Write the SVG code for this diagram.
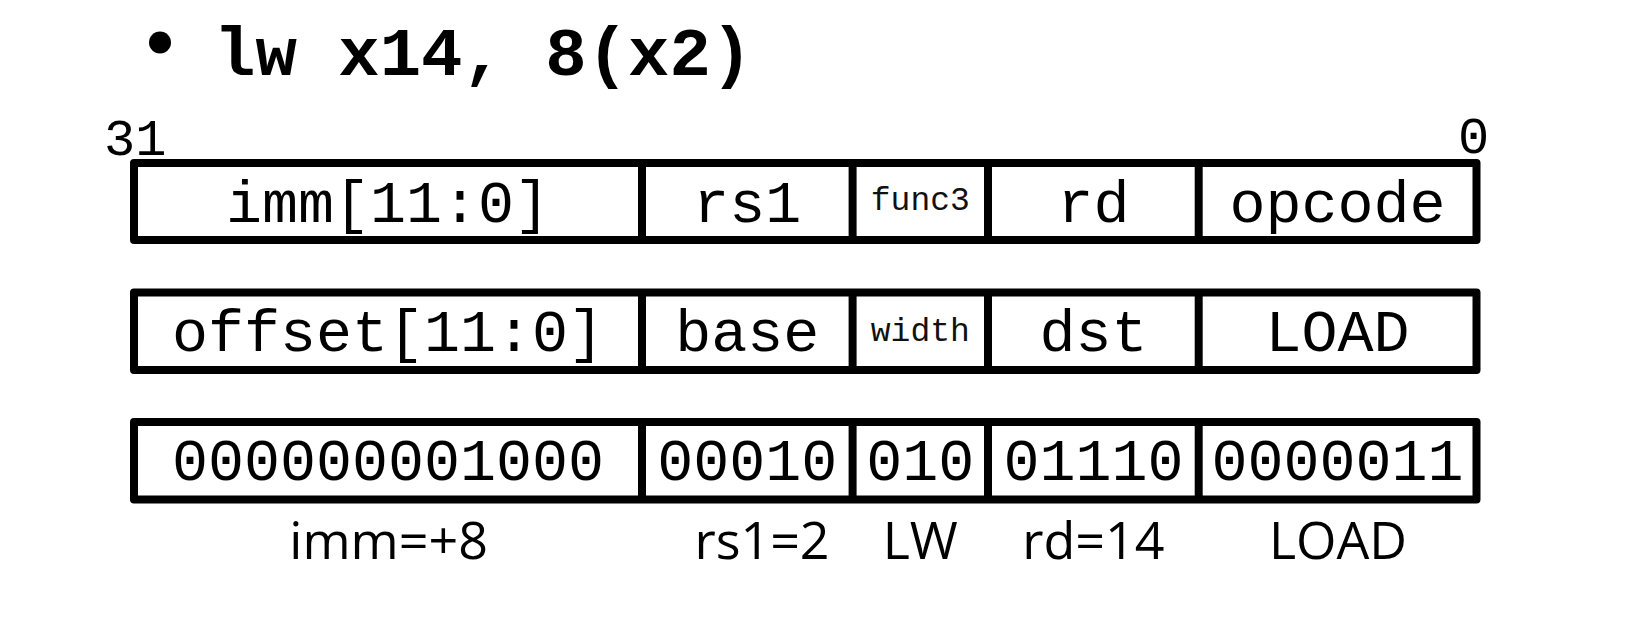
<svg xmlns="http://www.w3.org/2000/svg" width="1634" height="623" viewBox="0 0 1634 623">
<style>
.box{fill:#fff;stroke:#000;stroke-width:8;stroke-linejoin:round}
.div{stroke:#000;stroke-width:8}
.mono{font-family:"Liberation Mono","Courier New",monospace;fill:#000;text-anchor:middle}
.big{font-size:60px}
.small{font-size:33px;fill:#111}
.lbl{font-family:"Open Sans","Noto Sans",sans-serif;font-size:52px;fill:#000;text-anchor:middle}
</style>
<rect width="1634" height="623" fill="#fff"/>
<g id="title">
<circle cx="160" cy="42.5" r="11" fill="#000"/>
<text x="214" y="75" font-family="Liberation Mono, Courier New, monospace" font-weight="bold" font-size="69" fill="#000">lw x14, 8(x2)</text>
</g>
<g id="bit-labels">
<text x="104" y="155" font-family="Liberation Mono, Courier New, monospace" font-size="52" fill="#000">31</text>
<text x="1473.5" y="153" class="mono" font-size="52">0</text>
</g>
<g id="row-format">
<rect class="box" x="134" y="163" width="1342.5" height="77"/>
<line class="div" x1="642" y1="163" x2="642" y2="240"/>
<line class="div" x1="852.6" y1="163" x2="852.6" y2="240"/>
<line class="div" x1="988" y1="163" x2="988" y2="240"/>
<line class="div" x1="1198.7" y1="163" x2="1198.7" y2="240"/>
<text class="mono big" x="388" y="221.5">imm[11:0]</text>
<text class="mono big" x="747.3" y="221.5">rs1</text>
<text class="mono small" x="920.3" y="210">func3</text>
<text class="mono big" x="1093.4" y="221.5">rd</text>
<text class="mono big" x="1337.6" y="221.5">opcode</text>
</g>
<g id="row-meaning">
<rect class="box" x="134" y="292.5" width="1342.5" height="77.5"/>
<line class="div" x1="642" y1="292.5" x2="642" y2="370"/>
<line class="div" x1="852.6" y1="292.5" x2="852.6" y2="370"/>
<line class="div" x1="988" y1="292.5" x2="988" y2="370"/>
<line class="div" x1="1198.7" y1="292.5" x2="1198.7" y2="370"/>
<text class="mono big" x="388" y="351">offset[11:0]</text>
<text class="mono big" x="747.3" y="351">base</text>
<text class="mono small" x="920.3" y="341">width</text>
<text class="mono big" x="1093.4" y="351">dst</text>
<text class="mono big" x="1337.6" y="351">LOAD</text>
</g>
<g id="row-binary">
<rect class="box" x="134" y="422" width="1342.5" height="77.5"/>
<line class="div" x1="642" y1="422" x2="642" y2="499.5"/>
<line class="div" x1="852.6" y1="422" x2="852.6" y2="499.5"/>
<line class="div" x1="988" y1="422" x2="988" y2="499.5"/>
<line class="div" x1="1198.7" y1="422" x2="1198.7" y2="499.5"/>
<text class="mono big" x="388" y="480">000000001000</text>
<text class="mono big" x="747.3" y="480">00010</text>
<text class="mono big" x="920.3" y="480">010</text>
<text class="mono big" x="1093.4" y="480">01110</text>
<text class="mono big" x="1337.6" y="480">0000011</text>
</g>
<g id="field-values">
<text class="lbl" x="388.6" y="559">imm=+8</text>
<text class="lbl" x="762" y="559">rs1=2</text>
<text class="lbl" x="920.3" y="559">LW</text>
<text class="lbl" x="1093.4" y="559">rd=14</text>
<text class="lbl" x="1338" y="559">LOAD</text>
</g>
<g id="connectors"/>
</svg>
